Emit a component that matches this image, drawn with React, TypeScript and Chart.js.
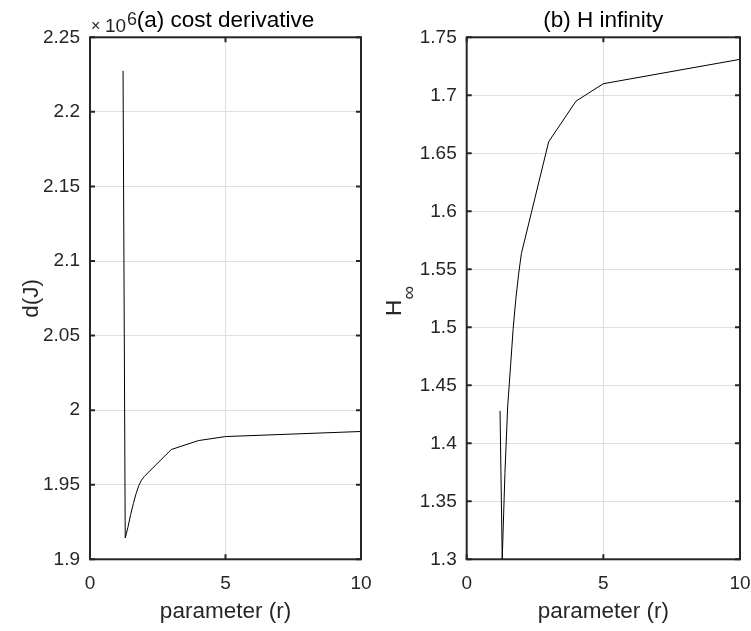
import React, { useEffect, useRef } from 'react';
import { Chart, registerables } from 'chart.js';

Chart.register(...registerables);

// ---- data ----
const R = [1.22, 1.3, 1.4, 1.5, 1.6, 1.7, 1.8, 1.9, 2, 3, 4, 5, 10];
const COST_DERIVATIVE = [2.2275, 1.9143, 1.9215, 1.930, 1.9374, 1.944, 1.9494, 1.9531, 1.9555, 1.9736, 1.9796, 1.9823, 1.9857];
const H_INFINITY = [1.428, 1.3, 1.375, 1.432, 1.465, 1.499, 1.525, 1.546, 1.5635, 1.660, 1.695, 1.710, 1.731];

const X_TICKS = [0, 5, 10];
const X_TICK_LABELS = ['0', '5', '10'];
const COST_TICKS = [1.9, 1.95, 2, 2.05, 2.1, 2.15, 2.2, 2.25];
const COST_TICK_LABELS = ['1.9', '1.95', '2', '2.05', '2.1', '2.15', '2.2', '2.25'];
const HINF_TICKS = [1.3, 1.35, 1.4, 1.45, 1.5, 1.55, 1.6, 1.65, 1.7, 1.75];
const HINF_TICK_LABELS = ['1.3', '1.35', '1.4', '1.45', '1.5', '1.55', '1.6', '1.65', '1.7', '1.75'];

const TITLE_A = '(a) cost derivative';
const TITLE_B = '(b) H infinity';
const X_LABEL = 'parameter (r)';
const COST_Y_LABEL = 'd(J)';
const HINF_Y_MAIN = 'H';
const HINF_Y_SUB = '\u221E';
const COST_EXPONENT_BASE = '10';
const COST_EXPONENT = '6';

const FONT = "'Liberation Sans', Arial, Helvetica, sans-serif";
const AXIS_COLOR = '#262626';
const GRID_COLOR = '#dfdfdf';

const boxPlugin = {
  id: 'matlabBox',
  afterDatasetsDraw(chart: any) {
    const { ctx, chartArea } = chart;
    const { left, right, top, bottom } = chartArea;
    const xs = chart.scales.x;
    const ys = chart.scales.y;
    ctx.save();
    ctx.strokeStyle = AXIS_COLOR;
    ctx.lineWidth = 2;
    ctx.strokeRect(left, top, right - left, bottom - top);
    ctx.beginPath();
    xs.ticks.forEach((t: any) => {
      const px = xs.getPixelForValue(t.value);
      ctx.moveTo(px, bottom);
      ctx.lineTo(px, bottom - 5);
      ctx.moveTo(px, top);
      ctx.lineTo(px, top + 5);
    });
    ys.ticks.forEach((t: any) => {
      const py = ys.getPixelForValue(t.value);
      ctx.moveTo(left, py);
      ctx.lineTo(left + 5, py);
      ctx.moveTo(right, py);
      ctx.lineTo(right - 5, py);
    });
    ctx.stroke();
    ctx.restore();
  },
};

const exponentPlugin = {
  id: 'exponentLabel',
  afterDraw(chart: any) {
    const { ctx, chartArea } = chart;
    const x0 = chartArea.left;
    ctx.save();
    ctx.fillStyle = AXIS_COLOR;
    ctx.textBaseline = 'alphabetic';
    ctx.textAlign = 'left';
    ctx.font = `16px ${FONT}`;
    ctx.fillText('\u00D7', x0 + 1, 31);
    ctx.font = `19px ${FONT}`;
    ctx.fillText(COST_EXPONENT_BASE, x0 + 15, 32);
    ctx.font = `18px ${FONT}`;
    ctx.fillText(COST_EXPONENT, x0 + 37, 25);
    ctx.restore();
  },
};

const hinfLabelPlugin = {
  id: 'hinfLabel',
  afterDraw(chart: any) {
    const { ctx } = chart;
    const cy = 316;
    const cx = 25.5;
    ctx.save();
    ctx.fillStyle = AXIS_COLOR;
    ctx.translate(cx, cy);
    ctx.rotate(-Math.PI / 2);
    ctx.textBaseline = 'alphabetic';
    ctx.textAlign = 'left';
    ctx.font = `22.5px ${FONT}`;
    ctx.fillText(HINF_Y_MAIN, 0, 0);
    ctx.font = `19px ${FONT}`;
    ctx.fillText(HINF_Y_SUB, 16.5, 14);
    ctx.restore();
  },
};

function makeConfig(opts: {
  title: string;
  values: number[];
  yMin: number;
  yMax: number;
  yTicks: number[];
  yTickLabels: string[];
  yLabel: string | null;
  yWidth: number;
  padRight: number;
  plugins: any[];
}) {
  return {
    type: 'line',
    data: {
      datasets: [
        {
          data: R.map((r, i) => ({ x: r, y: opts.values[i] })),
          borderColor: '#000000',
          borderWidth: 1,
          pointRadius: 0,
          tension: 0,
          fill: false,
        },
      ],
    },
    options: {
      animation: false,
      responsive: false,
      devicePixelRatio: 1,
      layout: { padding: { left: 0, right: opts.padRight, top: 0, bottom: 0 } },
      plugins: {
        legend: { display: false },
        tooltip: { enabled: false },
        title: {
          display: true,
          text: opts.title,
          fullSize: false,
          color: '#000000',
          font: { family: FONT, size: 22.5, weight: 'normal' },
          padding: { top: 7.6, bottom: 2.7 },
        },
      },
      scales: {
        x: {
          type: 'linear',
          min: 0,
          max: 10,
          afterBuildTicks: (scale: any) => {
            scale.ticks = X_TICKS.map((v) => ({ value: v }));
          },
          afterFit: (scale: any) => {
            scale.height = 71.7;
          },
          ticks: {
            color: AXIS_COLOR,
            font: { family: FONT, size: 19 },
            padding: 0,
            maxRotation: 0,
            autoSkip: false,
            callback: (v: number) => X_TICK_LABELS[X_TICKS.indexOf(v)] ?? '',
          },
          grid: {
            color: GRID_COLOR,
            lineWidth: 1,
            drawTicks: true,
            tickLength: 13,
            tickColor: 'rgba(0,0,0,0)',
          },
          border: { display: false },
          title: {
            display: true,
            text: X_LABEL,
            color: AXIS_COLOR,
            font: { family: FONT, size: 22.5 },
            padding: { top: 0, bottom: 5.3 },
          },
        },
        y: {
          type: 'linear',
          min: opts.yMin,
          max: opts.yMax,
          afterBuildTicks: (scale: any) => {
            scale.ticks = opts.yTicks.map((v) => ({ value: v }));
          },
          afterFit: (scale: any) => {
            scale.width = opts.yWidth;
          },
          ticks: {
            color: AXIS_COLOR,
            font: { family: FONT, size: 19 },
            padding: 10,
            autoSkip: false,
            callback: (v: number) => {
              const i = opts.yTicks.findIndex((t) => Math.abs(t - v) < 1e-9);
              return i >= 0 ? opts.yTickLabels[i] : '';
            },
          },
          grid: { color: GRID_COLOR, lineWidth: 1, drawTicks: false },
          border: { display: false },
          title: {
            display: !!opts.yLabel,
            text: opts.yLabel ?? '',
            color: AXIS_COLOR,
            font: { family: FONT, size: 22.5 },
            padding: { top: 18, bottom: 0 },
          },
        },
      },
    },
    plugins: opts.plugins,
  } as any;
}

export default function App() {
  const leftRef = useRef<HTMLCanvasElement | null>(null);
  const rightRef = useRef<HTMLCanvasElement | null>(null);

  useEffect(() => {
    const left = new Chart(
      leftRef.current as HTMLCanvasElement,
      makeConfig({
        title: TITLE_A,
        values: COST_DERIVATIVE,
        yMin: 1.9,
        yMax: 2.25,
        yTicks: COST_TICKS,
        yTickLabels: COST_TICK_LABELS,
        yLabel: COST_Y_LABEL,
        yWidth: 90,
        padRight: 15,
        plugins: [boxPlugin, exponentPlugin],
      })
    );
    const right = new Chart(
      rightRef.current as HTMLCanvasElement,
      makeConfig({
        title: TITLE_B,
        values: H_INFINITY,
        yMin: 1.3,
        yMax: 1.75,
        yTicks: HINF_TICKS,
        yTickLabels: HINF_TICK_LABELS,
        yLabel: null,
        yWidth: 91.7,
        padRight: 11,
        plugins: [boxPlugin, hinfLabelPlugin],
      })
    );
    return () => {
      left.destroy();
      right.destroy();
    };
  }, []);

  return (
    <div style={{ position: 'absolute', left: 0, top: 0, width: 751, height: 631, background: '#ffffff' }}>
      <canvas ref={leftRef} width={376} height={631} style={{ position: 'absolute', left: 0, top: 0 }} />
      <canvas ref={rightRef} width={376} height={631} style={{ position: 'absolute', left: 375, top: 0 }} />
    </div>
  );
}
